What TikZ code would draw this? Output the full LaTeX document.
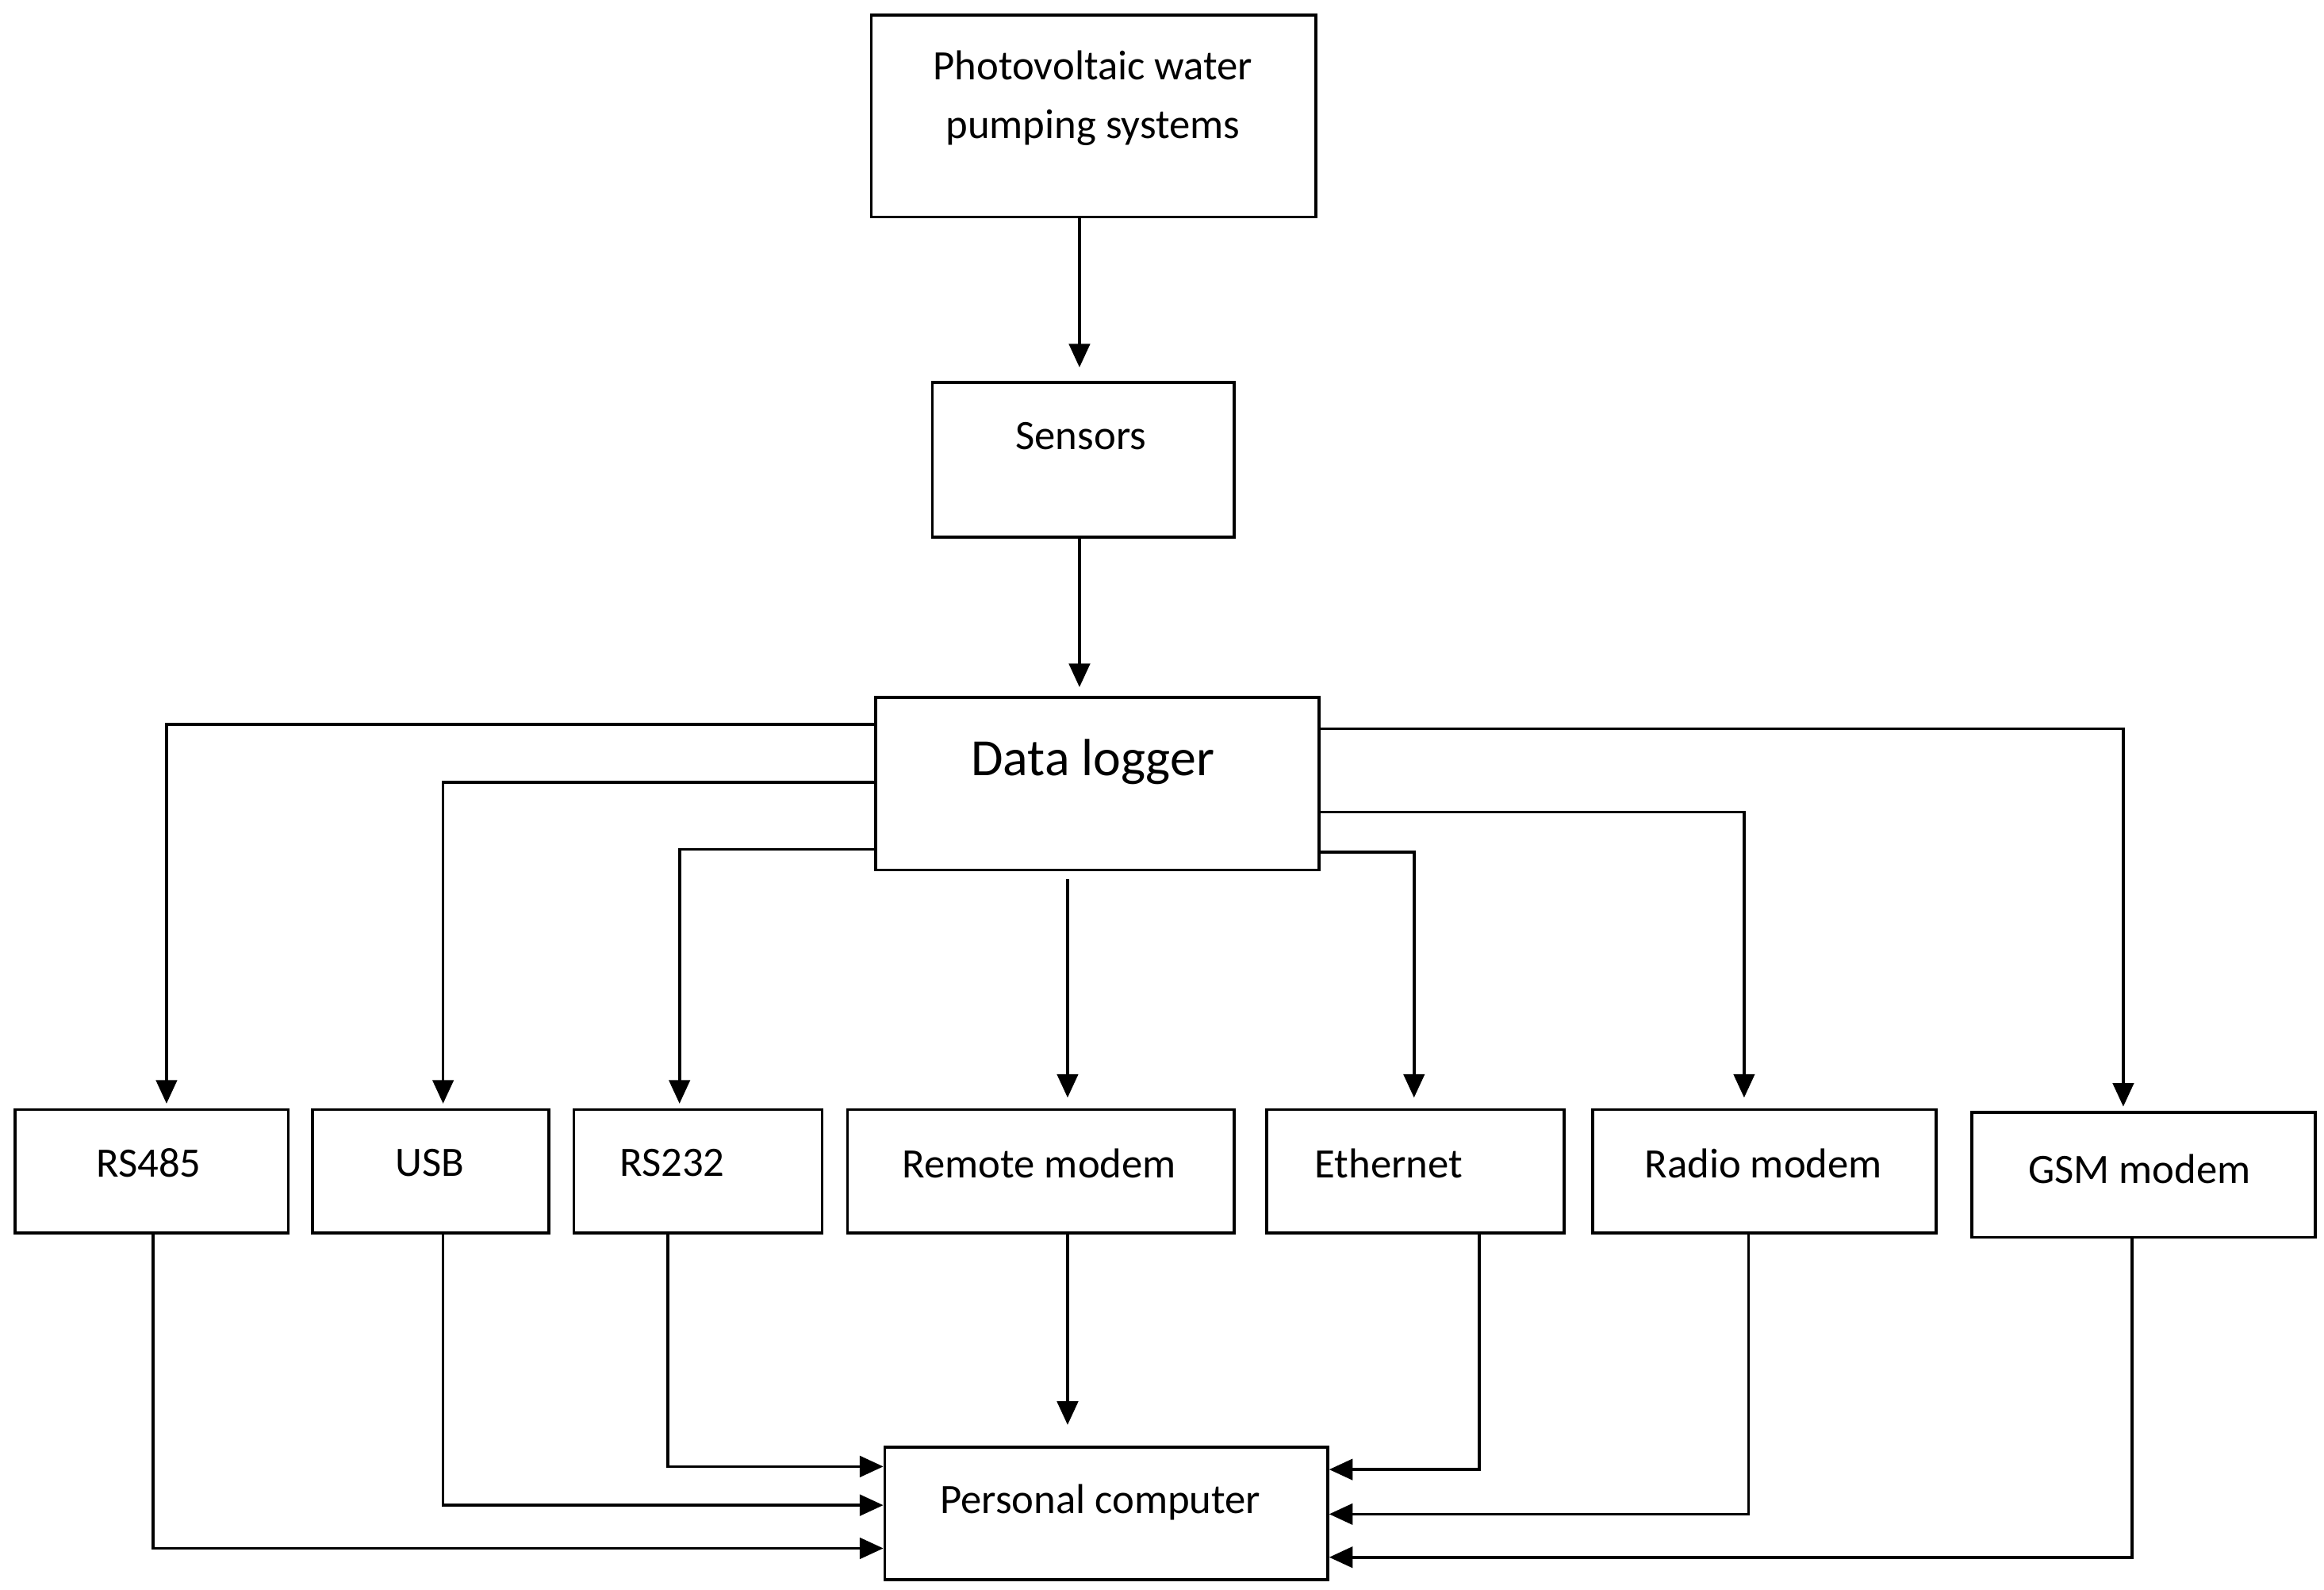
\documentclass[tikz,border=0pt]{standalone}
\usepackage{fontspec}
\setmainfont{Carlito}
\usetikzlibrary{arrows.meta}
\begin{document}
\begin{tikzpicture}[x=0.02cm,y=-0.02cm,
 box/.style={draw,line width=1.1pt,inner sep=0pt},
 txt/.style={inner sep=0pt,font=\fontsize{16}{22.5}\selectfont,align=center},
 arr/.style={line width=1.1pt,-{Triangle[length=9pt,width=8pt]}}]
\useasboundingbox (0,0) rectangle (1563,1069);
\node[box,minimum width=5.98cm,minimum height=2.72cm] (pv) at (735.5,78) {};
\node[box,minimum width=4.06cm,minimum height=2.08cm] (sen) at (728.5,309) {};
\node[box,minimum width=5.96cm,minimum height=2.32cm] (dl) at (738,527) {};
\node[box,minimum width=3.68cm,minimum height=1.66cm] (rs485) at (102,787.5) {};
\node[box,minimum width=3.18cm,minimum height=1.66cm] (usb) at (289.5,787.5) {};
\node[box,minimum width=3.34cm,minimum height=1.66cm] (rs232) at (469.5,787.5) {};
\node[box,minimum width=5.2cm,minimum height=1.66cm] (rm) at (700,787.5) {};
\node[box,minimum width=4cm,minimum height=1.66cm] (eth) at (952,787.5) {};
\node[box,minimum width=4.62cm,minimum height=1.66cm] (rad) at (1186.5,787.5) {};
\node[box,minimum width=4.62cm,minimum height=1.68cm] (gsm) at (1441.5,790) {};
\node[box,minimum width=5.96cm,minimum height=1.78cm] (pc) at (744,1017.5) {};
\node[txt] (tpv) at (735,66) {Photovoltaic water\\pumping systems};
\node[txt] (tsen) at (727,293) {Sensors};
\node[txt,font=\fontsize{20}{24}\selectfont] (tdl) at (735,512) {Data logger};
\node[txt] (t1) at (100,782) {RS485};
\node[txt] (t2) at (289,782) {USB};
\node[txt] (t3) at (452,782) {RS232};
\node[txt] (t4) at (699,782) {Remote modem};
\node[txt] (t5) at (934,782) {Ethernet};
\node[txt] (t6) at (1186,782) {Radio modem};
\node[txt] (t7) at (1439,786) {GSM modem};
\node[txt] (t8) at (740,1010) {Personal computer};
\draw[arr] (726,0 |- pv.south) -- (726,247);
\draw[arr] (726,0 |- sen.south) -- (726,462);
\draw[arr] (dl.west |- 0,487) -| (112,742);
\draw[arr] (dl.west |- 0,526) -| (298,742);
\draw[arr] (dl.west |- 0,571) -| (457,742);
\draw[arr] (718,591) -- (718,738);
\draw[arr] (dl.east |- 0,490) -| (1428,744);
\draw[arr] (dl.east |- 0,546) -| (1173,738);
\draw[arr] (dl.east |- 0,573) -| (951,738);
\draw[arr] (718,0 |- rm.south) -- (718,958);
\draw[arr] (449,0 |- rs232.south) |- (pc.west |- 0,986);
\draw[arr] (298,0 |- usb.south) |- (pc.west |- 0,1012);
\draw[arr] (103,0 |- rs485.south) |- (pc.west |- 0,1041);
\draw[arr] (995,0 |- eth.south) |- (pc.east |- 0,988);
\draw[arr] (1176,0 |- rad.south) |- (pc.east |- 0,1018);
\draw[arr] (1434,0 |- gsm.south) |- (pc.east |- 0,1047);
\end{tikzpicture}
\end{document}
